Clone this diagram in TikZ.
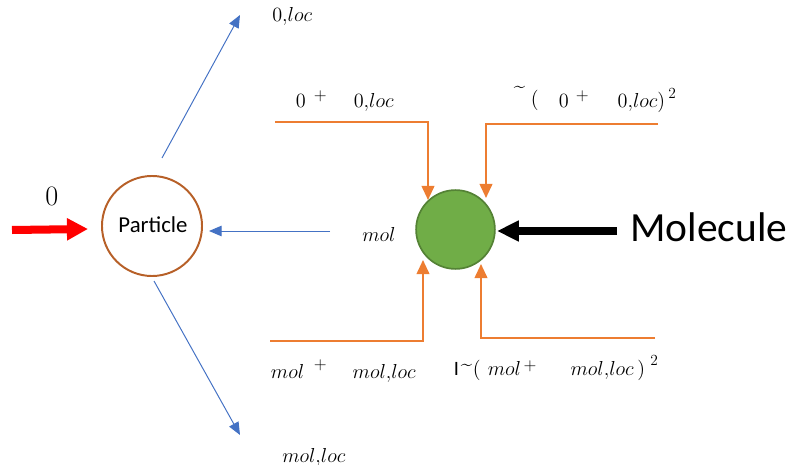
\documentclass[tikz,border=0pt]{standalone}
\usepackage{fontspec}
\setsansfont{Carlito}
\usepackage{amsmath}
\usetikzlibrary{arrows.meta}
\definecolor{partbrown}{RGB}{183,96,40}
\definecolor{flowblue}{RGB}{68,114,196}
\definecolor{feedorange}{RGB}{237,125,49}
\definecolor{molgreen}{RGB}{112,173,71}
\definecolor{molrim}{RGB}{84,130,53}
\newlength\pxu
\setlength\pxu{0.7087pt}
% one piece of a label, set #1 pixels right of the label's left edge
\newcommand\putat[2]{\makebox[0pt][l]{\hspace*{#1\pxu}#2}}
\newcommand\raisedplus[1]{\raisebox{#1}{\fontsize{12.5}{14}\selectfont$+$}}
\tikzset{
  flow/.style={draw=flowblue,line width=0.7pt,-{Triangle[length=9pt,width=7.5pt]}},
  feed/.style={draw=feedorange,line width=1.4pt,-{Triangle[length=10pt,width=9pt]}},
  lbl/.style={inner sep=0pt,anchor=base west,font=\fontsize{14.5}{17}\selectfont},
}
\begin{document}
\begin{tikzpicture}[x=0.025cm,y=-0.025cm,>=Stealth]
        \useasboundingbox (0,0) rectangle (796,465);
        % the two bodies
        \node[circle,draw=partbrown,line width=1.4pt,minimum size=2.5cm,inner sep=0pt] (particle) at (152,226) {};
        \node[lbl,anchor=base,font=\sffamily\fontsize{16.2}{18}\selectfont] (partname) at (153,233) {Particle};
        \node[circle,draw=molrim,fill=molgreen,line width=1.2pt,minimum size=1.97cm,inner sep=0pt] (molecule) at (455.5,229.5) {};
        % incoming particle
        \coordinate (redtail) at (12,230);
        \coordinate (redtip) at (88,229);
        \draw[red,line width=5.7pt,-{Triangle[length=15pt,width=15pt]}] (redtail) -- (redtip);
        \node[lbl,font=\fontsize{20}{22}\selectfont] (zero) at (45,206) {0};
        % scattered directions
        \coordinate (uptail) at (162,158);
        \coordinate (uptip) at (240,15);
        \draw[flow] (uptail) -- (uptip);
        \node[lbl] (uplbl) at (272,22) {$0{,}loc$};
        \coordinate (downtail) at (154,281);
        \coordinate (downtip) at (240,435);
        \draw[flow] (downtail) -- (downtip);
        \node[lbl] (downlbl) at (282,462) {$mol{,}loc$};
        \coordinate (backtail) at (330,231);
        \coordinate (backtip) at (209,231);
        \draw[flow] (backtail) -- (backtip);
        \node[lbl] (mollbl) at (362,242) {$mol$};
        % incoming molecule
        \coordinate (moltail) at (617,231);
        \coordinate (moltip) at (497,231);
        \draw[black,line width=5.5pt,-{Triangle[length=15.5pt,width=14pt]}] (moltail) -- (moltip);
        \node[lbl,font=\sffamily\fontsize{29.5}{32}\selectfont] (molname) at (630,242) {Molecule};
        % feeds into the molecule
        \coordinate (tlstart) at (275,122);
        \coordinate (tltip) at (428,200);
        \draw[feed] (tlstart) -| (tltip);
        \node[lbl] (tllbl) at (295,108)
          {\putat{0}{$0$}\putat{18}{\raisedplus{5.5pt}}\putat{58}{$0{,}loc$}};
        \coordinate (trstart) at (658,124);
        \coordinate (trtip) at (486,198);
        \draw[feed] (trstart) -| (trtip);
        \node[lbl] (trlbl) at (513,108)
          {\putat{0}{\raisebox{11pt}{\~{}}}\putat{17}{\raisebox{1.5pt}{(}}\putat{45}{$0$}\putat{62}{\raisedplus{5.5pt}}%
           \putat{104}{$0{,}loc$}\putat{144}{)}\putat{155}{\raisebox{7pt}{\fontsize{11}{12}\selectfont 2}}};
        \coordinate (blstart) at (270,341);
        \coordinate (bltip) at (423,260);
        \draw[feed] (blstart) -| (bltip);
        \node[lbl] (bllbl) at (270,378)
          {\putat{0}{$mol$}\putat{43}{\raisedplus{6pt}}\putat{82}{$mol{,}loc$}};
        \coordinate (brstart) at (655,338);
        \coordinate (brtip) at (481,264);
        \draw[feed] (brstart) -| (brtip);
        \node[lbl] (brlbl) at (453,375)
          {\putat{0}{\textsf{I}}\putat{7}{\raisebox{3.5pt}{\~{}}}\putat{19}{(}\putat{34}{$mol$}\putat{70}{\raisedplus{3pt}}%
           \putat{117}{$mol{,}loc$}\putat{184}{)}\putat{197}{\raisebox{7pt}{\fontsize{11}{12}\selectfont 2}}};
      \end{tikzpicture}
\end{document}
